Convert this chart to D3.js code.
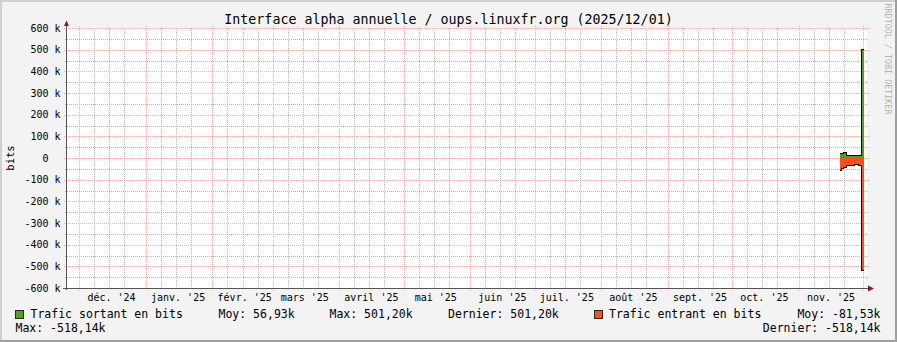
<!DOCTYPE html>
<meta charset="utf-8">
<style>
body { margin: 0; background: #f3f3f3; }
svg { display: block; font-family: "DejaVu Sans Mono", monospace; }
</style>
<svg width="897" height="342"></svg>
<script src="https://d3js.org/d3.v7.min.js"></script>
<script>
// daily samples (the last date closes the last step)
const dates = ["2025-11-20", "2025-11-21", "2025-11-22", "2025-11-23", "2025-11-24", "2025-11-25",
  "2025-11-26", "2025-11-27", "2025-11-28", "2025-11-29", "2025-11-30", "2025-12-01T09:00"];
const outBits = [18500, 18500, 25000, 10000, 10000, 10000, 10000, 10000, 10000, 10000, 501200, 501200];
const inBits = [-56000, -50000, -43000, -36000, -36000, -36000, -36000, -30000, -31000, -36000, -518140, -518140];

const monthLabels = ["déc. '24", "janv. '25", "févr. '25", "mars '25", "avril '25", "mai '25",
  "juin '25", "juil. '25", "août '25", "sept. '25", "oct. '25", "nov. '25"];
const yTicks = [600000, 500000, 400000, 300000, 200000, 100000, 0,
  -100000, -200000, -300000, -400000, -500000, -600000];
const yTickLabels = ["600 k", "500 k", "400 k", "300 k", "200 k", "100 k", "0  ",
  "-100 k", "-200 k", "-300 k", "-400 k", "-500 k", "-600 k"];

const seriesNames = ["Trafic sortant en bits", "Trafic entrant en bits"];
const seriesColors = ["#52a01c", "#ff4e1a"];
const statsOut = ["Moy: 56,93k", "Max: 501,20k", "Dernier: 501,20k"];
const statsIn = ["Moy: -81,53k", "Max: -518,14k", "Dernier: -518,14k"];

const title = "Interface alpha annuelle / oups.linuxfr.org (2025/12/01)";

const svg = d3.select("svg"),
  width = +svg.attr("width"),
  height = +svg.attr("height");

const pLeft = 67, pRight = 867, pTop = 28, pBottom = 288;

const x = d3.scaleUtc()
  .domain([new Date("2024-11-25T06:30Z"), new Date("2025-12-02T18:30Z")])
  .range([pLeft, pRight]);
const y = d3.scaleLinear().domain([-600000, 600000]).range([pBottom, pTop]);

const px = v => Math.round(v) + 0.5;

// frame
svg.append("rect").attr("width", width).attr("height", height).attr("fill", "#f3f3f3");
svg.append("path").attr("d", `M0,${height} V0 H${width}`).attr("fill", "none")
  .attr("stroke", "#cfcfcf").attr("stroke-width", 4);
svg.append("path").attr("d", `M0,${height} H${width} V0`).attr("fill", "none")
  .attr("stroke", "#9e9e9e").attr("stroke-width", 4);

svg.append("rect").attr("x", pLeft).attr("y", pTop)
  .attr("width", pRight - pLeft).attr("height", pBottom - pTop).attr("fill", "#fff");

// grid
const grid = svg.append("g").attr("stroke-dasharray", "1,1").attr("stroke-width", 1)
  .attr("shape-rendering", "crispEdges");
const minorY = d3.range(-550000, 600000, 100000);
grid.selectAll(".hmin").data(minorY).enter().append("line")
  .attr("x1", pLeft - 2).attr("x2", pRight + 2)
  .attr("y1", d => px(y(d))).attr("y2", d => px(y(d)))
  .attr("stroke", "#b4b4b4");

const monthStarts = d3.utcMonth.range(new Date("2024-12-01T00:00Z"), new Date("2025-12-02T00:00Z"));
const minorX = [];
d3.utcMonth.range(new Date("2024-11-01T00:00Z"), new Date("2025-12-02T00:00Z")).forEach(m => {
  [7, 14, 21].forEach(k => {
    const t = d3.utcDay.offset(m, k);
    if (t >= x.domain()[0] && t <= x.domain()[1]) minorX.push(t);
  });
});
grid.selectAll(".vmin").data(minorX).enter().append("line")
  .attr("x1", d => px(x(d))).attr("x2", d => px(x(d)))
  .attr("y1", pTop).attr("y2", pBottom + 2)
  .attr("stroke", "#b4b4b4");

grid.selectAll(".hmaj").data(yTicks).enter().append("line")
  .attr("x1", pLeft - 3).attr("x2", pRight + 2)
  .attr("y1", d => px(y(d))).attr("y2", d => px(y(d)))
  .attr("stroke", "#f4a8a8");
grid.selectAll(".vmaj").data(monthStarts).enter().append("line")
  .attr("x1", d => px(x(d))).attr("x2", d => px(x(d)))
  .attr("y1", pTop - 2).attr("y2", pBottom + 3)
  .attr("stroke", "#f4a8a8");

// data
const data = dates.map((d, i) => ({ t: new Date(d + (d.length > 10 ? "Z" : "T00:00Z")), o: outBits[i], n: inBits[i] }));

const areaOut = d3.area().curve(d3.curveStepAfter).x(d => x(d.t)).y0(y(0)).y1(d => y(d.o));
const areaIn = d3.area().curve(d3.curveStepAfter).x(d => x(d.t)).y0(y(0)).y1(d => y(d.n));
svg.append("path").datum(data).attr("d", areaOut).attr("fill", seriesColors[0]).attr("shape-rendering", "crispEdges");
svg.append("path").datum(data).attr("d", areaIn).attr("fill", seriesColors[1]).attr("shape-rendering", "crispEdges");

const lineOut = d3.line().curve(d3.curveStepAfter).x(d => x(d.t)).y(d => y(d.o));
const lineIn = d3.line().curve(d3.curveStepAfter).x(d => x(d.t)).y(d => y(d.n));
svg.append("path").datum(data).attr("d", lineOut).attr("fill", "none")
  .attr("stroke", "#000").attr("stroke-width", 1).attr("shape-rendering", "crispEdges");
svg.append("path").datum(data).attr("d", lineIn).attr("fill", "none")
  .attr("stroke", "#000").attr("stroke-width", 1).attr("shape-rendering", "crispEdges");

// axes
svg.append("line").attr("x1", pLeft - 0.5).attr("x2", pLeft - 0.5).attr("y1", pBottom + 2).attr("y2", 25)
  .attr("stroke", "#555");
svg.append("line").attr("x1", pLeft - 4).attr("x2", pRight + 2).attr("y1", pBottom + 0.5).attr("y2", pBottom + 0.5)
  .attr("stroke", "#555");
svg.append("path").attr("d", `M${pLeft - 3},26 L${pLeft - 0.5},20.5 L${pLeft + 2},26 Z`).attr("fill", "#8b1a1a");
svg.append("path").attr("d", `M${pRight + 1},${pBottom - 2.5} L${pRight + 7},${pBottom + 0.5} L${pRight + 1},${pBottom + 3.5} Z`)
  .attr("fill", "#8b1a1a");

// y labels
svg.append("g").selectAll("text").data(yTicks).enter().append("text")
  .attr("x", 60.5).attr("y", d => y(d)).attr("dy", "0.36em")
  .attr("text-anchor", "end").style("white-space", "pre")
  .attr("font-size", "10px").attr("fill", "#000")
  .text((d, i) => yTickLabels[i]);

// x labels, centered 15 days after each month start
svg.append("g").selectAll("text").data(monthStarts.slice(0, monthLabels.length)).enter().append("text")
  .attr("x", d => x(d3.utcDay.offset(d, 15))).attr("y", 300.5)
  .attr("text-anchor", "middle").attr("font-size", "10px").attr("fill", "#000")
  .text((d, i) => monthLabels[i]);

// title and side texts
svg.append("text").attr("x", width / 2).attr("y", 23.5).attr("text-anchor", "middle")
  .attr("font-size", "13.3px").attr("fill", "#000").text(title);
svg.append("text").attr("transform", "translate(14,158) rotate(-90)").attr("text-anchor", "middle")
  .attr("font-size", "10.5px").attr("fill", "#000").text("bits");
svg.append("text").attr("transform", "translate(884.5,3.5) rotate(90)")
  .attr("font-size", "8.4px").attr("fill", "#b4b4b4").text("RRDTOOL / TOBI OETIKER");

// legend
const lg = svg.append("g").attr("font-size", "11.5px").attr("fill", "#000").style("white-space", "pre");
lg.append("rect").attr("x", 15.5).attr("y", 310.5).attr("width", 8).attr("height", 8)
  .attr("fill", seriesColors[0]).attr("stroke", "#2a2a2a");
lg.append("text").attr("x", 30.5).attr("y", 318.3).text(seriesNames[0]);
lg.append("text").attr("x", 218.5).attr("y", 318.3).text(statsOut[0]);
lg.append("text").attr("x", 329.5).attr("y", 318.3).text(statsOut[1]);
lg.append("text").attr("x", 448).attr("y", 318.3).text(statsOut[2]);
lg.append("rect").attr("x", 594.5).attr("y", 310.5).attr("width", 8).attr("height", 8)
  .attr("fill", seriesColors[1]).attr("stroke", "#2a2a2a");
lg.append("text").attr("x", 609).attr("y", 318.3).text(seriesNames[1]);
lg.append("text").attr("x", 880.5).attr("y", 318.3).attr("text-anchor", "end").text(statsIn[0]);
lg.append("text").attr("x", 15.5).attr("y", 332.3).text(statsIn[1]);
lg.append("text").attr("x", 880.5).attr("y", 332.3).attr("text-anchor", "end").text(statsIn[2]);
</script>
